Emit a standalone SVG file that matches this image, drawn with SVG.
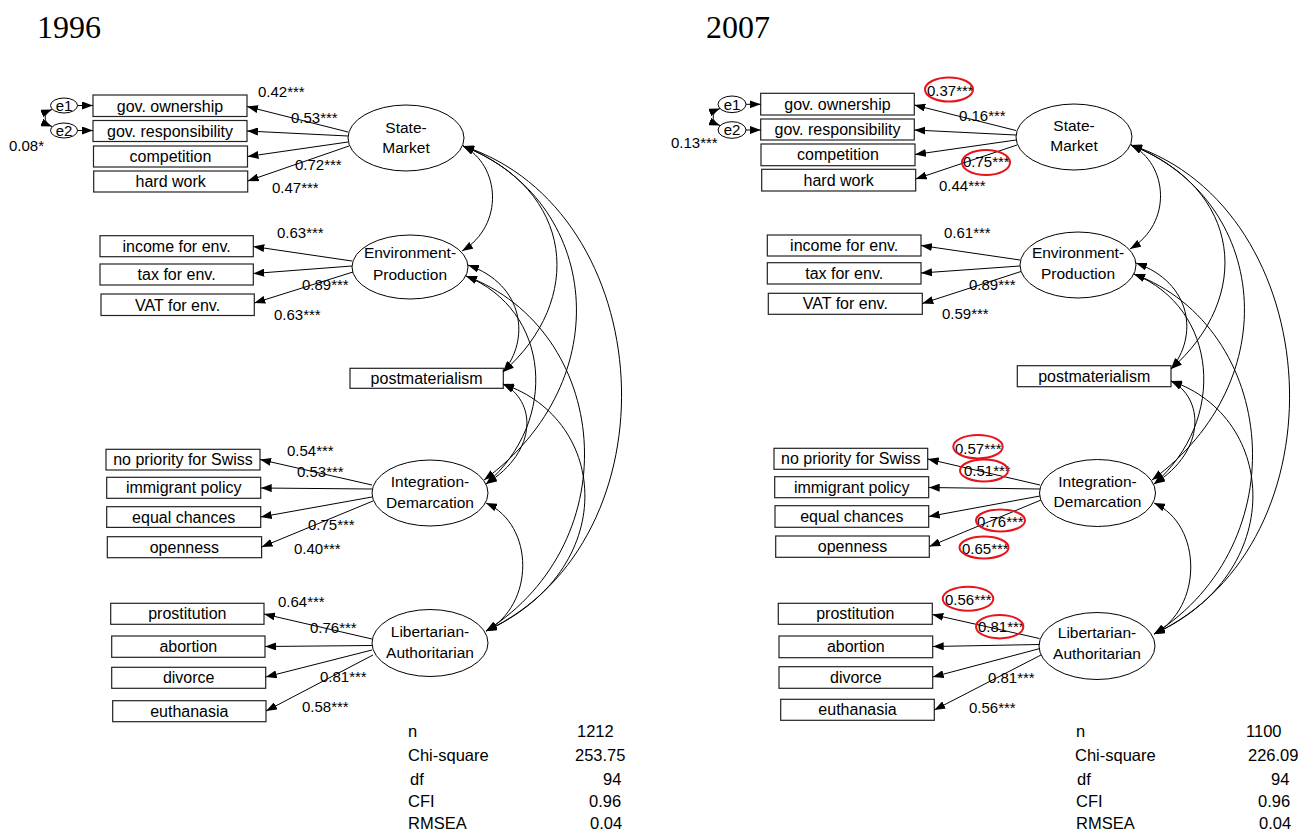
<svg xmlns="http://www.w3.org/2000/svg" width="1304" height="834" viewBox="0 0 1304 834">
<defs>
<marker id="ah" markerUnits="userSpaceOnUse" markerWidth="11" markerHeight="8" refX="11" refY="4" orient="auto-start-reverse"><path d="M0,0 L11,4 L0,8 z" fill="#000"/></marker>
</defs>
<style>
.box{fill:#fff;stroke:#222;stroke-width:1.2}
.lat{fill:#fff;stroke:#000;stroke-width:1}
.hl{fill:none;stroke:#e8141b;stroke-width:2}
.t{font-family:"Liberation Sans",Arial,sans-serif;font-size:16px;fill:#000;text-anchor:middle}
.lt{font-family:"Liberation Sans",Arial,sans-serif;font-size:15.5px;fill:#000;text-anchor:middle}
.et{font-family:"Liberation Sans",Arial,sans-serif;font-size:15px;fill:#000;text-anchor:middle}
.lbl{font-family:"Liberation Sans",Arial,sans-serif;font-size:15px;fill:#000}
.st{font-family:"Liberation Sans",Arial,sans-serif;font-size:16.5px;fill:#000}
.title{font-family:"Liberation Serif","Times New Roman",serif;font-size:32px;fill:#000}
.arr{fill:none;stroke:#000;stroke-width:1;marker-end:url(#ah)}
.cov{fill:none;stroke:#000;stroke-width:1;marker-start:url(#ah);marker-end:url(#ah)}
</style>
<rect width="1304" height="834" fill="#fff"/>
<text class="title" x="37" y="38">1996</text>
<text class="title" x="706" y="38">2007</text>

<!-- ===== 1996 nodes ===== -->
<g id="a-e1"><ellipse class="lat" cx="64" cy="105.5" rx="13.5" ry="7.5"/><text class="et" x="64" y="110.5">e1</text></g>
<g id="a-e2"><ellipse class="lat" cx="64" cy="130.5" rx="13.5" ry="7.5"/><text class="et" x="64" y="135.5">e2</text></g>
<g id="a-gov-own"><rect class="box" x="93" y="95" width="154" height="21.5"/><text class="t" x="170" y="111.5">gov. ownership</text></g>
<g id="a-gov-resp"><rect class="box" x="93" y="120.5" width="154" height="21"/><text class="t" x="170" y="136.5">gov. responsibility</text></g>
<g id="a-comp"><rect class="box" x="93.5" y="146" width="154" height="21"/><text class="t" x="170.5" y="162">competition</text></g>
<g id="a-hard"><rect class="box" x="93.7" y="171" width="154" height="21"/><text class="t" x="170.7" y="187">hard work</text></g>
<g id="a-income"><rect class="box" x="100" y="235.7" width="153.3" height="21"/><text class="t" x="176.6" y="251.7">income for env.</text></g>
<g id="a-tax"><rect class="box" x="100" y="264" width="153.3" height="21"/><text class="t" x="176.6" y="280">tax for env.</text></g>
<g id="a-vat"><rect class="box" x="101" y="294" width="153.3" height="21.5"/><text class="t" x="177.6" y="310.5">VAT for env.</text></g>
<g id="a-postmat"><rect class="box" x="350" y="368.3" width="153.3" height="20"/><text class="t" x="426.6" y="384">postmaterialism</text></g>
<g id="a-nopri"><rect class="box" x="106" y="449.3" width="154" height="20.7"/><text class="t" x="183" y="465">no priority for Swiss</text></g>
<g id="a-immig"><rect class="box" x="106.7" y="477.3" width="154" height="21"/><text class="t" x="183.7" y="493.3">immigrant policy</text></g>
<g id="a-equal"><rect class="box" x="106.7" y="506.7" width="154" height="20.7"/><text class="t" x="183.7" y="522.5">equal chances</text></g>
<g id="a-open"><rect class="box" x="107.3" y="536.7" width="154.3" height="21"/><text class="t" x="184.4" y="552.7">openness</text></g>
<g id="a-prost"><rect class="box" x="110.7" y="603.3" width="153.3" height="21"/><text class="t" x="187.3" y="619.3">prostitution</text></g>
<g id="a-abort"><rect class="box" x="111.7" y="636" width="153.3" height="21.3"/><text class="t" x="188.3" y="652">abortion</text></g>
<g id="a-divorce"><rect class="box" x="111.7" y="667.3" width="154" height="21"/><text class="t" x="188.7" y="683.3">divorce</text></g>
<g id="a-euth"><rect class="box" x="112.7" y="700.7" width="153.3" height="21"/><text class="t" x="189.3" y="716.7">euthanasia</text></g>
<g id="a-sm"><ellipse class="lat" cx="406" cy="138" rx="58" ry="33"/><text class="lt" x="406" y="132.7">State-</text><text class="lt" x="406" y="153.3">Market</text></g>
<g id="a-ep"><ellipse class="lat" cx="410" cy="267" rx="58" ry="32"/><text class="lt" x="410" y="258.3">Environment-</text><text class="lt" x="410" y="280">Production</text></g>
<g id="a-id"><ellipse class="lat" cx="430" cy="493" rx="58" ry="33"/><text class="lt" x="430" y="486.7">Integration-</text><text class="lt" x="430" y="508.3">Demarcation</text></g>
<g id="a-la"><ellipse class="lat" cx="430" cy="643" rx="58" ry="33.5"/><text class="lt" x="430" y="637.3">Libertarian-</text><text class="lt" x="430" y="658.3">Authoritarian</text></g>

<!-- ===== 2007 nodes ===== -->
<g id="b-e1"><ellipse class="lat" cx="732" cy="104.3" rx="14" ry="8.3"/><text class="et" x="732" y="109.5">e1</text></g>
<g id="b-e2"><ellipse class="lat" cx="732" cy="130" rx="14" ry="8.3"/><text class="et" x="732" y="135.2">e2</text></g>
<g id="b-gov-own"><rect class="box" x="760.7" y="93.3" width="153.6" height="21.7"/><text class="t" x="837.5" y="109.5">gov. ownership</text></g>
<g id="b-gov-resp"><rect class="box" x="760.7" y="119" width="153.6" height="21"/><text class="t" x="837.5" y="135">gov. responsibility</text></g>
<g id="b-comp"><rect class="box" x="761" y="144" width="154" height="21.7"/><text class="t" x="838" y="160.3">competition</text></g>
<g id="b-hard"><rect class="box" x="761.7" y="169.3" width="154" height="21.7"/><text class="t" x="838.7" y="185.5">hard work</text></g>
<g id="b-income"><rect class="box" x="767.3" y="235" width="153.7" height="21"/><text class="t" x="844.2" y="251">income for env.</text></g>
<g id="b-tax"><rect class="box" x="767.3" y="262.7" width="153.7" height="21.3"/><text class="t" x="844.2" y="278.7">tax for env.</text></g>
<g id="b-vat"><rect class="box" x="768.3" y="293.3" width="154" height="21"/><text class="t" x="845.3" y="309.3">VAT for env.</text></g>
<g id="b-postmat"><rect class="box" x="1017.3" y="365.7" width="153.7" height="21"/><text class="t" x="1094.2" y="381.7">postmaterialism</text></g>
<g id="b-nopri"><rect class="box" x="774" y="448.3" width="153.7" height="21"/><text class="t" x="850.8" y="464.3">no priority for Swiss</text></g>
<g id="b-immig"><rect class="box" x="774.7" y="476.7" width="154" height="21"/><text class="t" x="851.7" y="492.7">immigrant policy</text></g>
<g id="b-equal"><rect class="box" x="775" y="505.7" width="153.7" height="21.6"/><text class="t" x="851.8" y="521.8">equal chances</text></g>
<g id="b-open"><rect class="box" x="775.7" y="536" width="153.6" height="21.3"/><text class="t" x="852.5" y="552">openness</text></g>
<g id="b-prost"><rect class="box" x="778.3" y="603.3" width="154" height="21"/><text class="t" x="855.3" y="619.3">prostitution</text></g>
<g id="b-abort"><rect class="box" x="779" y="636" width="153.7" height="21.7"/><text class="t" x="855.8" y="652.2">abortion</text></g>
<g id="b-divorce"><rect class="box" x="779" y="666.7" width="153.7" height="21.6"/><text class="t" x="855.8" y="682.8">divorce</text></g>
<g id="b-euth"><rect class="box" x="780.7" y="699.3" width="153.6" height="21"/><text class="t" x="857.5" y="715.3">euthanasia</text></g>
<g id="b-sm"><ellipse class="lat" cx="1074" cy="137" rx="58" ry="33"/><text class="lt" x="1074" y="131">State-</text><text class="lt" x="1074" y="150.7">Market</text></g>
<g id="b-ep"><ellipse class="lat" cx="1078" cy="265" rx="58" ry="33"/><text class="lt" x="1078" y="258.3">Environment-</text><text class="lt" x="1078" y="279.3">Production</text></g>
<g id="b-id"><ellipse class="lat" cx="1097.5" cy="493" rx="58" ry="33.5"/><text class="lt" x="1097.5" y="486.7">Integration-</text><text class="lt" x="1097.5" y="507.3">Demarcation</text></g>
<g id="b-la"><ellipse class="lat" cx="1097" cy="646" rx="58" ry="33.5"/><text class="lt" x="1097" y="638.3">Libertarian-</text><text class="lt" x="1097" y="659.3">Authoritarian</text></g>

<!-- ===== connectors ===== -->
<g id="connectors">
<path class="arr" d="M77.5,105.5 L93,105.5"/>
<path class="arr" d="M77.5,130.5 L93,130.5"/>
<path class="cov" d="M52,109.5 C43,113 43,123 52,126.5"/>
<path class="arr" d="M348,132 L247,106.5"/>
<path class="arr" d="M348,136 L247,131"/>
<path class="arr" d="M348,142 L247.5,156.5"/>
<path class="arr" d="M349,146 L247.7,181"/>
<path class="arr" d="M352,261 L253.3,246.5"/>
<path class="arr" d="M352,266 L253.3,273.5"/>
<path class="arr" d="M353,272 L254.3,303"/>
<path class="arr" d="M372,485 L260,459.5"/>
<path class="arr" d="M372,489 L260.7,488"/>
<path class="arr" d="M372,497 L260.7,517"/>
<path class="arr" d="M373,501 L261.6,547"/>
<path class="arr" d="M372,639 L264,614"/>
<path class="arr" d="M372,645.5 L265,646.5"/>
<path class="arr" d="M372,650 L265.7,677"/>
<path class="arr" d="M373,655 L266,711"/>
<path class="cov" d="M463,146 C500,165 505,225 462,251"/>
<path class="cov" d="M463,146 C575,190 585,300 503,372"/>
<path class="cov" d="M463,146 C600,200 620,380 484,480"/>
<path class="cov" d="M463,146 C660,210 680,540 486,631"/>
<path class="cov" d="M468,265 C525,285 530,340 503,372"/>
<path class="cov" d="M466,276 C550,310 560,420 486,484"/>
<path class="cov" d="M466,276 C610,330 630,540 486,631"/>
<path class="cov" d="M503,384 C535,400 540,450 486,484"/>
<path class="cov" d="M503,384 C610,420 620,570 486,631"/>
<path class="cov" d="M486,503 C535,525 535,605 486,631"/>
<path class="arr" d="M746,104.3 L760.7,104.3"/>
<path class="arr" d="M746,130 L760.7,130"/>
<path class="cov" d="M720,108.5 C711,112 711,122 720,125.5"/>
<path class="arr" d="M1016,130.5 L914.3,105"/>
<path class="arr" d="M1016,135 L914.3,130"/>
<path class="arr" d="M1016,140 L915,154.5"/>
<path class="arr" d="M1017,145 L915.7,179"/>
<path class="arr" d="M1020,260 L921,245.5"/>
<path class="arr" d="M1020,266 L921,273"/>
<path class="arr" d="M1021,271.5 L922.3,303.5"/>
<path class="arr" d="M1040,485 L927.7,459"/>
<path class="arr" d="M1040,489 L928.7,487.5"/>
<path class="arr" d="M1040,496 L928.7,516.5"/>
<path class="arr" d="M1041,500 L929.3,546.5"/>
<path class="arr" d="M1039.5,638.5 L932.3,614.5"/>
<path class="arr" d="M1039.5,644.5 L932.7,646.5"/>
<path class="arr" d="M1040,648.5 L932.7,677"/>
<path class="arr" d="M1041,655 L934.3,710"/>
<path class="cov" d="M1131,145 C1168,164 1173,223 1130,249"/>
<path class="cov" d="M1131,145 C1243,189 1253,297 1171,369"/>
<path class="cov" d="M1131,145 C1268,199 1288,380 1152,480"/>
<path class="cov" d="M1131,145 C1328,209 1348,543 1154,634"/>
<path class="cov" d="M1136,263 C1193,283 1198,337 1171,369"/>
<path class="cov" d="M1134,274 C1218,308 1228,420 1154,484"/>
<path class="cov" d="M1134,274 C1278,328 1298,543 1154,634"/>
<path class="cov" d="M1171,381 C1203,397 1208,450 1154,484"/>
<path class="cov" d="M1171,381 C1278,417 1288,573 1154,634"/>
<path class="cov" d="M1154,503 C1203,525 1203,608 1154,634"/>
</g>

<g id="labels-1996">
<text class="lbl" x="258" y="97">0.42***</text>
<text class="lbl" x="291" y="123">0.53***</text>
<text class="lbl" x="295" y="170">0.72***</text>
<text class="lbl" x="272" y="192.5">0.47***</text>
<text class="lbl" x="9" y="150.5">0.08*</text>
<text class="lbl" x="277" y="238">0.63***</text>
<text class="lbl" x="302" y="290">0.89***</text>
<text class="lbl" x="274" y="320">0.63***</text>
<text class="lbl" x="287" y="455.5">0.54***</text>
<text class="lbl" x="297" y="476.5">0.53***</text>
<text class="lbl" x="308" y="530">0.75***</text>
<text class="lbl" x="294" y="554">0.40***</text>
<text class="lbl" x="278" y="606.5">0.64***</text>
<text class="lbl" x="310" y="633">0.76***</text>
<text class="lbl" x="320" y="681.5">0.81***</text>
<text class="lbl" x="302" y="711.5">0.58***</text>
</g>
<g id="labels-2007">
<text class="lbl" x="927" y="96">0.37***</text>
<text class="lbl" x="959" y="120.5">0.16***</text>
<text class="lbl" x="963" y="167">0.75***</text>
<text class="lbl" x="939" y="191">0.44***</text>
<text class="lbl" x="671" y="148">0.13***</text>
<text class="lbl" x="944" y="238">0.61***</text>
<text class="lbl" x="969" y="290">0.89***</text>
<text class="lbl" x="942" y="319">0.59***</text>
<text class="lbl" x="955" y="454">0.57***</text>
<text class="lbl" x="964" y="476">0.51***</text>
<text class="lbl" x="977" y="527">0.76***</text>
<text class="lbl" x="962" y="554">0.65***</text>
<text class="lbl" x="945" y="605">0.56***</text>
<text class="lbl" x="978" y="631.5">0.81***</text>
<text class="lbl" x="988" y="683">0.81***</text>
<text class="lbl" x="969" y="712.5">0.56***</text>
</g>
<g id="highlights">
<ellipse class="hl" cx="949" cy="89.5" rx="24" ry="12"/>
<ellipse class="hl" cx="986" cy="162.5" rx="24" ry="12.5"/>
<ellipse class="hl" cx="978" cy="446.7" rx="24.7" ry="11.7"/>
<ellipse class="hl" cx="984" cy="470.5" rx="24" ry="11"/>
<ellipse class="hl" cx="1000.5" cy="520.5" rx="24.5" ry="11"/>
<ellipse class="hl" cx="984" cy="547.5" rx="24.5" ry="11"/>
<ellipse class="hl" cx="968" cy="598.7" rx="25.3" ry="12"/>
<ellipse class="hl" cx="999.7" cy="626.7" rx="23.7" ry="11.7"/>
</g>
<g id="fit-1996">
<text class="st" x="408" y="736.5">n</text><text class="st" x="577" y="736.5">1212</text>
<text class="st" x="408" y="760.5">Chi-square</text><text class="st" x="575" y="760.5">253.75</text>
<text class="st" x="410" y="784.5">df</text><text class="st" x="603" y="784.5">94</text>
<text class="st" x="408" y="806.5">CFI</text><text class="st" x="589" y="806.5">0.96</text>
<text class="st" x="408" y="828.5">RMSEA</text><text class="st" x="590" y="828.5">0.04</text>
</g>
<g id="fit-2007">
<text class="st" x="1076" y="736.5">n</text><text class="st" x="1246" y="736.5">1100</text>
<text class="st" x="1075" y="760.5">Chi-square</text><text class="st" x="1248" y="760.5">226.09</text>
<text class="st" x="1077" y="784.5">df</text><text class="st" x="1271" y="784.5">94</text>
<text class="st" x="1076" y="806.5">CFI</text><text class="st" x="1258" y="806.5">0.96</text>
<text class="st" x="1076" y="828.5">RMSEA</text><text class="st" x="1259" y="828.5">0.04</text>
</g>
</svg>
